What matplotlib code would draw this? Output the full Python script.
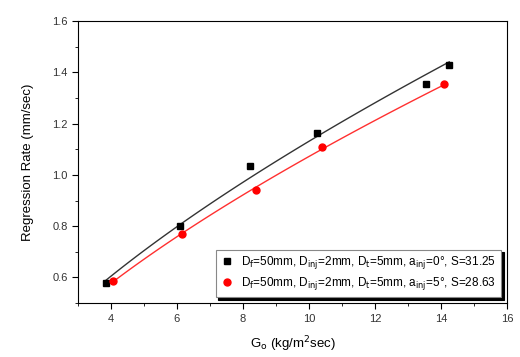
import numpy as np
import matplotlib.pyplot as plt
from matplotlib.ticker import MultipleLocator

plt.rcParams['font.family'] = ['Liberation Sans', 'DejaVu Sans']

# 0 deg injection angle
go_0 = [3.85, 6.1, 8.2, 10.25, 13.55, 14.25]
rr_0 = [0.58, 0.80, 1.035, 1.165, 1.355, 1.43]
# 5 deg injection angle
go_5 = [4.05, 6.15, 8.4, 10.4, 14.1]
rr_5 = [0.585, 0.77, 0.94, 1.11, 1.355]

lab_0 = r'D$_\mathrm{f}$=50mm, D$_\mathrm{inj}$=2mm, D$_\mathrm{t}$=5mm, a$_\mathrm{inj}$=0°, S=31.25'
lab_5 = r'D$_\mathrm{f}$=50mm, D$_\mathrm{inj}$=2mm, D$_\mathrm{t}$=5mm, a$_\mathrm{inj}$=5°, S=28.63'


def power_fit(x, y):
    # y = a * x^n fitted in log space
    n, loga = np.polyfit(np.log(x), np.log(y), 1)
    xs = np.linspace(min(x), max(x), 100)
    return xs, np.exp(loga) * xs ** n


fig = plt.figure(figsize=(5.2, 3.57), dpi=100)
ax = fig.add_axes([0.15, 0.151, 0.825, 0.79])

xs, ys = power_fit(go_0, rr_0)
ax.plot(xs, ys, color='#333333', lw=1)
xs, ys = power_fit(go_5, rr_5)
ax.plot(xs, ys, color='#ff3030', lw=1)

ax.plot(go_0, rr_0, 's', color='black', ms=5, label=lab_0)
ax.plot(go_5, rr_5, 'o', color='red', ms=5, label=lab_5)

ax.set_xlim(3, 16)
ax.set_ylim(0.5, 1.6)
ax.xaxis.set_major_locator(MultipleLocator(2))
ax.xaxis.set_minor_locator(MultipleLocator(1))
ax.yaxis.set_major_locator(MultipleLocator(0.2))
ax.yaxis.set_minor_locator(MultipleLocator(0.1))
ax.set_xticks([4, 6, 8, 10, 12, 14, 16])
ax.tick_params(which='both', direction='out', labelsize=8, colors='black',
               labelcolor='#333333')
ax.tick_params(which='major', length=4)
ax.tick_params(which='minor', length=2.5)
ax.set_yticklabels([f'{v:.1f}' for v in ax.get_yticks()])

ax.set_xlabel(r'G$_\mathrm{o}$ (kg/m$^2$sec)', fontsize=9.5, labelpad=8)
ax.set_ylabel('Regression Rate (mm/sec)', fontsize=9.5, labelpad=13)

leg = ax.legend(loc='lower right', fontsize=8.5, frameon=True, fancybox=False,
                shadow={'color': 'black', 'alpha': 1}, handletextpad=0.6,
                borderaxespad=0.5, handlelength=1.2, borderpad=0.4,
                labelspacing=0.35)
leg.get_frame().set_edgecolor('#888888')
leg.get_frame().set_linewidth(0.8)

fig.savefig('out.png', dpi=100)
